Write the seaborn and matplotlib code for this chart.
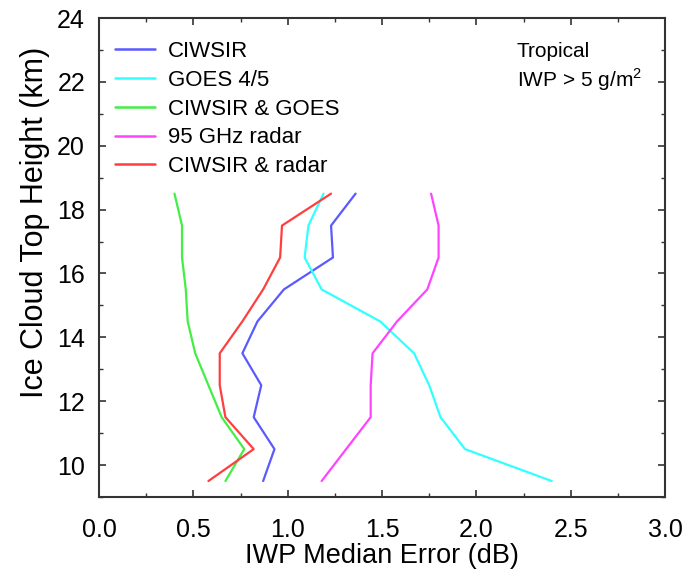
import pandas as pd
import matplotlib.pyplot as plt
import seaborn as sns
from matplotlib.ticker import MultipleLocator

# --- Data ---
HEIGHTS = [9.5, 10.5, 11.5, 12.5, 13.5, 14.5, 15.5, 16.5, 17.5, 18.5]

CIWSIR = [0.87, 0.93, 0.82, 0.86, 0.76, 0.84, 0.98, 1.24, 1.23, 1.36]
GOES = [2.40, 1.94, 1.81, 1.75, 1.67, 1.49, 1.18, 1.09, 1.11, 1.19]
CIWSIR_GOES = [0.67, 0.77, 0.65, 0.58, 0.51, 0.47, 0.46, 0.44, 0.44, 0.40]
RADAR = [1.18, 1.31, 1.44, 1.44, 1.45, 1.58, 1.74, 1.80, 1.80, 1.76]
CIWSIR_RADAR = [0.58, 0.82, 0.67, 0.64, 0.64, 0.76, 0.87, 0.96, 0.97, 1.23]

METHODS = ['CIWSIR', 'GOES 4/5', 'CIWSIR & GOES', '95 GHz radar', 'CIWSIR & radar']
COLORS = ['#5a5aff', '#33ffff', '#44ee44', '#ff44ff', '#ff3f3f']


def build_frame():
    rows = []
    for name, values in zip(METHODS, [CIWSIR, GOES, CIWSIR_GOES, RADAR, CIWSIR_RADAR]):
        for h, v in zip(HEIGHTS, values):
            rows.append({'Method': name, 'Height': h, 'Error': v})
    return pd.DataFrame(rows)


def main():
    df = build_frame()

    sns.set_style('white')
    plt.rcParams['font.family'] = ['Liberation Sans', 'DejaVu Sans']
    plt.rcParams['mathtext.fontset'] = 'custom'
    plt.rcParams['mathtext.rm'] = 'Liberation Sans'
    plt.rcParams['text.color'] = 'black'
    plt.rcParams['axes.labelcolor'] = 'black'
    plt.rcParams['xtick.color'] = 'black'
    plt.rcParams['ytick.color'] = 'black'

    fig = plt.figure(figsize=(6.95, 5.70), dpi=100)
    ax = fig.add_axes([99 / 695, 1 - 497 / 570, 566 / 695, 479 / 570])

    sns.lineplot(data=df, x='Error', y='Height', hue='Method', hue_order=METHODS,
                 palette=COLORS, orient='y', linewidth=1.6, ax=ax, legend=False)

    # legend built by hand to keep the frameless look
    for name, color in zip(METHODS, COLORS):
        ax.plot([], [], color=color, linewidth=1.8, label=name)
    ax.legend(loc='upper left', bbox_to_anchor=(0.028, 0.952), frameon=False,
              fontsize=16, handlelength=1.8, handletextpad=0.6, labelspacing=0.35,
              borderaxespad=0, borderpad=0)

    # annotation in the upper right corner
    ax.text(0.738, 0.918, 'Tropical', transform=ax.transAxes,
            fontsize=15, va='baseline', ha='left')
    ax.text(0.738, 0.857, 'IWP > 5 g/m$^2$', transform=ax.transAxes,
            fontsize=15, va='baseline', ha='left')

    ax.set_xlim(0, 3)
    ax.set_ylim(9, 24)
    ax.xaxis.set_major_locator(MultipleLocator(0.5))
    ax.xaxis.set_minor_locator(MultipleLocator(0.25))
    ax.yaxis.set_major_locator(MultipleLocator(2))
    ax.yaxis.set_minor_locator(MultipleLocator(1))
    ax.xaxis.set_major_formatter(lambda v, p: f'{v:.1f}')

    ax.tick_params(which='both', direction='in', top=True, right=True,
                   bottom=True, left=True, color='#333333', labelsize=18)
    ax.tick_params(which='major', length=5, width=1.2)
    ax.tick_params(which='minor', length=3, width=1.0)
    ax.tick_params(axis='x', which='major', pad=15)
    ax.tick_params(axis='y', which='major', pad=10)
    for spine in ax.spines.values():
        spine.set_color('#333333')
        spine.set_linewidth(1.5)

    ax.set_xlabel('IWP Median Error (dB)', fontsize=19.5, labelpad=1)
    ax.set_ylabel('Ice Cloud Top Height (km)', fontsize=22)
    ax.yaxis.set_label_coords(-0.087, 0.573)

    fig.savefig('out.png', dpi=100)


if __name__ == '__main__':
    main()
